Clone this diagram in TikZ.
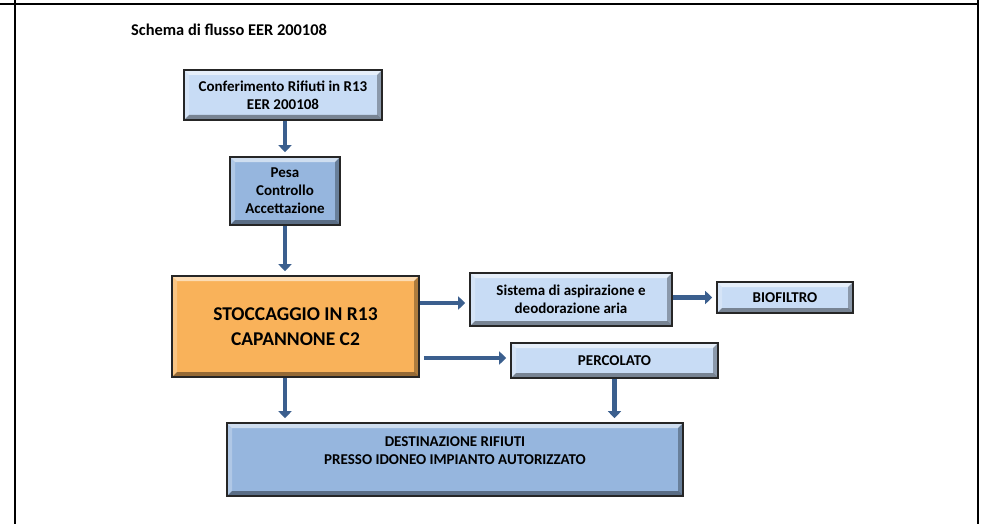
\documentclass[tikz,border=0pt]{standalone}
\usepackage{fontspec}
\setmainfont{Carlito}
\usetikzlibrary{arrows.meta}
\definecolor{lightbox}{RGB}{200,220,245}
\definecolor{midbox}{RGB}{150,182,222}
\definecolor{orangebox}{RGB}{249,178,90}
\definecolor{arrowblue}{RGB}{59,95,142}
\tikzset{
  bevel/.style={path picture={
    \def\bw{5pt}
    \fill[white,opacity=0.55] (path picture bounding box.north west) -- (path picture bounding box.north east)
      -- ([xshift=-\bw,yshift=-\bw]path picture bounding box.north east) -- ([xshift=\bw,yshift=-\bw]path picture bounding box.north west) -- cycle;
    \fill[white,opacity=0.25] (path picture bounding box.north west) -- ([xshift=\bw,yshift=-\bw]path picture bounding box.north west)
      -- ([xshift=\bw,yshift=\bw]path picture bounding box.south west) -- (path picture bounding box.south west) -- cycle;
    \fill[black,opacity=0.4] (path picture bounding box.south west) -- (path picture bounding box.south east)
      -- ([xshift=-\bw,yshift=\bw]path picture bounding box.south east) -- ([xshift=\bw,yshift=\bw]path picture bounding box.south west) -- cycle;
    \fill[black,opacity=0.3] (path picture bounding box.north east) -- (path picture bounding box.south east)
      -- ([xshift=-\bw,yshift=\bw]path picture bounding box.south east) -- ([xshift=-\bw,yshift=-\bw]path picture bounding box.north east) -- cycle;
  }},
  box/.style={draw=black!85, line width=1.6pt, bevel, align=center, inner sep=0pt,
    font=\fontsize{15}{18}\selectfont\bfseries},
  lightstyle/.style={box, fill=lightbox},
  midstyle/.style={box, fill=midbox},
  flow/.style={draw=arrowblue, line width=4.5pt, -{Triangle[width=13pt,length=7pt]}, shorten >=4pt},
  frame/.style={draw=black, line width=2pt},
}
\begin{document}
\begin{tikzpicture}[x=1pt,y=-1pt]
\useasboundingbox (0,0) rectangle (982,524);
% frame
\draw[frame] (0,4.5) -- (979,4.5);
\draw[frame] (15,0) -- (15,524);
\draw[frame] (978,0) -- (978,524);
% title
\node[anchor=base west, inner sep=0pt, font=\fontsize{16.4}{19}\selectfont\bfseries] (title) at (131,36) {Schema di flusso EER 200108};
% boxes
\node[lightstyle, minimum width=198pt, minimum height=50pt] (conf) at (283,95) {Conferimento Rifiuti in R13\\EER 200108};
\node[midstyle, minimum width=110pt, minimum height=68pt] (pesa) at (285,191) {Pesa\\Controllo\\Accettazione};
\node[box, fill=orangebox, minimum width=247pt, minimum height=101pt, font=\fontsize{19.5}{25}\selectfont\bfseries] (stock) at (295.5,326.5) {STOCCAGGIO IN R13\\CAPANNONE C2};
\node[lightstyle, minimum width=202pt, minimum height=53pt] (sist) at (571,299.5) {Sistema di aspirazione e\\deodorazione aria};
\node[lightstyle, minimum width=136pt, minimum height=31pt] (bio) at (785,297.5) {BIOFILTRO};
\node[lightstyle, minimum width=207pt, minimum height=35pt] (perc) at (614.5,360.5) {PERCOLATO};
\node[midstyle, minimum width=456pt, minimum height=73pt] (dest) at (455,459.5) {DESTINAZIONE RIFIUTI\\PRESSO IDONEO IMPIANTO AUTORIZZATO\\~};
% connectors
\draw[flow] (conf.south -| pesa.north) -- (pesa.north);
\draw[flow] (pesa.south) -- (pesa.south |- stock.north);
\draw[flow] (stock.east |- 0,303) -- (sist.west |- 0,303);
\draw[flow] (sist.east |- bio.west) -- (bio.west);
\draw[flow, shorten <=4pt] (stock.east |- 0,358) -- (perc.west |- 0,358);
\draw[flow] (stock.south -| pesa.south) -- (dest.north -| pesa.south);
\draw[flow] (perc.south) -- (perc.south |- dest.north);
\end{tikzpicture}
\end{document}
